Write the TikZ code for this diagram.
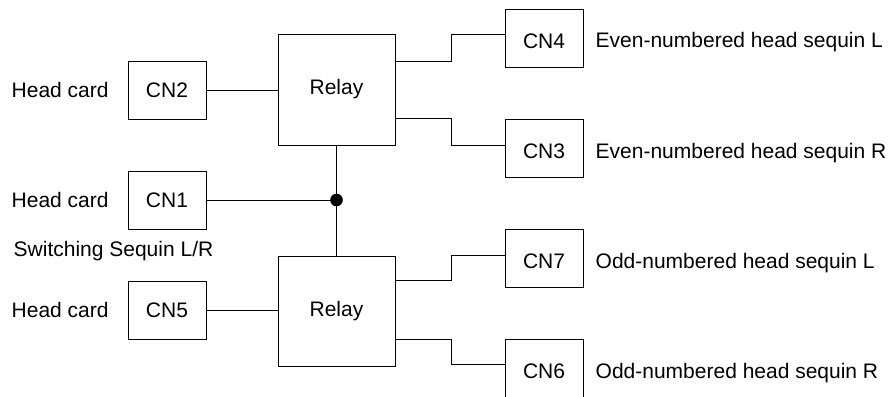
\documentclass[tikz,border=0pt]{standalone}
\usepackage{fontspec}
\setmainfont{Liberation Sans}
\begin{document}
\begin{tikzpicture}[x=1pt,y=-1pt,
  every node/.style={font=\fontsize{21}{25}\selectfont},
  cnbox/.style={draw,line width=0.9pt,minimum width=78pt,minimum height=58pt,inner sep=0pt},
  cnboxr/.style={cnbox,text height=20pt,text depth=0pt},
  relaybox/.style={draw,line width=0.9pt,minimum width=117pt,minimum height=111pt,inner sep=0pt},
  lbl/.style={anchor=base west,inner sep=0pt},
  wire/.style={line width=0.9pt}]
\useasboundingbox (0,0) rectangle (896,396);
% left connectors
\node[cnbox] (CN2) at (167,90) {CN2};
\node[cnbox] (CN1) at (167,200.5) {CN1};
\node[cnbox] (CN5) at (167,310.5) {CN5};
% relays
\node[relaybox] (R1) at (336.5,89.5) {Relay};
\node[relaybox,minimum height=110pt] (R2) at (336.5,311) {Relay};
% right connectors
\node[cnboxr] (CN4) at (544,38.5) {CN4};
\node[cnboxr] (CN3) at (544,148.5) {CN3};
\node[cnboxr] (CN7) at (544,258.5) {CN7};
\node[cnboxr] (CN6) at (544,368.5) {CN6};
% labels
\node[lbl] (hc2) at (11.5,97.7) {Head card};
\node[lbl] (hc1) at (11.5,207.7) {Head card};
\node[lbl] (hc5) at (11.5,317.7) {Head card};
\node[lbl] (sw) at (13.5,256.8) {Switching Sequin L/R};
\node[lbl] (l4) at (595.5,47.8) {Even-numbered head sequin L};
\node[lbl] (l3) at (595.5,158) {Even-numbered head sequin R};
\node[lbl] (l7) at (595.5,268.5) {Odd-numbered head sequin L};
\node[lbl] (l6) at (595.5,378.8) {Odd-numbered head sequin R};
% wires
\draw[wire] (CN2.east) -- (CN2.east -| R1.west);
\draw[wire] (CN5.east |- 0,310) -- (R2.west |- 0,310);
\coordinate (jn) at (R1.south |- 0,200);
\draw[wire] (R1.south) -- (R2.north);
\draw[wire] (CN1.east |- jn) -- (jn);
\fill (jn) circle (6.3pt);
\draw[wire] (R1.east |- 0,61) -- (451,61) |- (CN4.west |- 0,34.3);
\draw[wire] (R1.east |- 0,118) -- (451,118) |- (CN3.west |- 0,145.3);
\draw[wire] (R2.east |- 0,280) -- (451,280) |- (CN7.west |- 0,255.7);
\draw[wire] (R2.east |- 0,339) -- (451,339) |- (CN6.west |- 0,364.5);
\end{tikzpicture}
\end{document}
